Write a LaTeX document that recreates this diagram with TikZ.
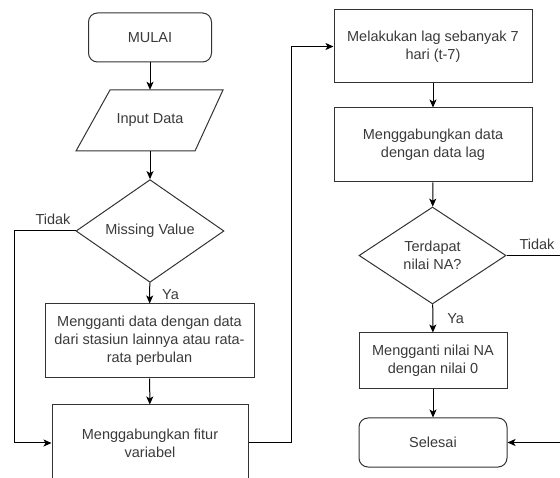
\documentclass[tikz,border=0pt]{standalone}
\usepackage{fontspec}
\setmainfont{Liberation Sans}
\usetikzlibrary{shapes.geometric,arrows.meta,calc}
\definecolor{txt}{HTML}{3A3A3A}
\definecolor{edge}{HTML}{333333}
\begin{document}
\begin{tikzpicture}[x=1pt,y=-1pt,
  every node/.style={font=\fontsize{14.5}{18}\selectfont, text=txt, align=center, inner sep=0pt},
  procbox/.style={draw=edge, line width=1pt, rectangle},
  termbox/.style={draw=edge, line width=1pt, rectangle, rounded corners=9pt},
  decbox/.style={draw=edge, line width=1pt, diamond},
  conn/.style={draw=black, line width=1pt, -{Stealth[length=8pt,width=7pt,inset=2pt]}},
  plainconn/.style={draw=black, line width=1pt},
  lbl/.style={font=\fontsize{14.5}{18}\selectfont, text=txt}
]
\useasboundingbox (0,0) rectangle (560,478);
\clip (0,0) rectangle (560,478);

% left column
\node[termbox, minimum width=123pt, minimum height=49pt] (mulai) at (150,37.5) {MULAI};
\node[minimum width=120pt, minimum height=61pt] (input) at (150,120.5) {Input Data};
\draw[draw=edge, line width=1pt] (110,90) -- (223,90) -- (195,151) -- (76,151) -- cycle;
\node[decbox, minimum width=148pt, minimum height=96pt] (mv) at (150,231) {Missing Value};
\node[procbox, minimum width=209pt, minimum height=74pt] (ganti) at (149.5,341)
  {Mengganti data dengan data\\dari stasiun lainnya atau rata-\\rata perbulan};
\node[procbox, minimum width=196pt, minimum height=76pt] (fitur) at (150,443)
  {Menggabungkan fitur\\variabel};

% right column
\node[procbox, minimum width=198pt, minimum height=73pt] (lag) at (433,46.5)
  {Melakukan lag sebanyak 7\\hari (t-7)};
\node[procbox, minimum width=198pt, minimum height=74pt] (gab) at (433,145)
  {Menggabungkan data\\dengan data lag};
\node[decbox, minimum width=147pt, minimum height=97pt] (na) at (432.5,255.5)
  {Terdapat\\nilai NA?};
\node[procbox, minimum width=148pt, minimum height=56pt] (nilai) at (433,361)
  {Mengganti nilai NA\\dengan nilai 0};
\node[termbox, minimum width=148pt, minimum height=49pt] (selesai) at (433,442.5) {Selesai};

% helper coordinates
\coordinate (lc1) at (14,231);
\coordinate (lc2) at (14,443);
\coordinate (mc1) at (291,443);
\coordinate (mc2) at (291,46.5);
\coordinate (rc1) at (575,255.5);
\coordinate (rc2) at (575,442.5);

% connectors
\draw[conn] (mulai) -- (input);
\draw[conn] (input) -- (mv);
\draw[conn] (mv) -- node[lbl, right=12pt, pos=0.55] (ya1) {Ya} (ganti);
\draw[conn] (ganti) -- (fitur);
\draw[conn] (mv.west) -- (lc1) -- (lc2) -- (fitur.west);
\node[lbl] (tidak1) at (53,219) {Tidak};
\draw[conn] (fitur.east) -- (mc1) -- (mc2) -- (lag.west);
\draw[conn] (lag) -- (gab);
\draw[conn] (gab) -- (na);
\draw[conn] (na) -- node[lbl, right=14pt, pos=0.5] (ya2) {Ya} (nilai);
\draw[conn] (nilai) -- (selesai);
\draw[conn] (na.east) -- (rc1) -- (rc2) -- (selesai.east);
\node[lbl] (tidak2) at (537,244) {Tidak};
\end{tikzpicture}
\end{document}
